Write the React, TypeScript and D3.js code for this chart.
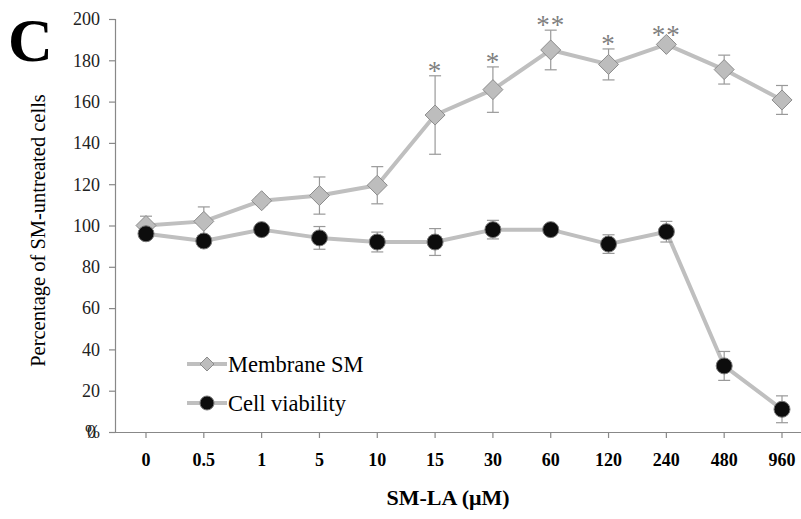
import React from "react";
import * as d3 from "d3";

const categories = ["0", "0.5", "1", "5", "10", "15", "30", "60", "120", "240", "480", "960"];
const membraneSM = [100, 102, 112, 114.5, 119.5, 153.5, 165.8, 185, 178, 187.7, 175.5, 160.8];
const membraneErr = [4.5, 7, 2, 9, 9, 19, 11, 9.6, 7.5, 2, 7, 7];
const viability = [96, 92.5, 98, 94, 92, 92, 98, 98, 91, 97, 32, 11];
const viabilityErr = [2.5, 2.5, 1.5, 5.5, 4.8, 6.5, 4.5, 1.5, 4.5, 5, 7, 6.5];
const stars = ["", "", "", "", "", "*", "*", "**", "*", "**", "", ""];
const yTicks = [20, 40, 60, 80, 100, 120, 140, 160, 180, 200];

const W = 801;
const H = 519;
const font = "'Liberation Serif', 'Times New Roman', serif";

const App = () => {
    const svgRef = React.useRef<SVGSVGElement>(null);

    React.useEffect(() => {
        drawChart()
    }, []);

    const drawChart = () => {
        if (!svgRef.current) return

        const svg = d3.select(svgRef.current)
        svg.selectAll("*").remove()

        const x = d3.scalePoint().domain(categories).range([146, 782])
        const y = d3.scaleLinear().domain([0, 200]).range([432, 19])

        const axisColor = "#888"
        const lineColor = "#bfbfbf"

        // panel letter
        svg.append("text")
            .attr("x", 8).attr("y", 61)
            .style("font", `bold 62px ${font}`)
            .text("C")

        // y axis
        svg.append("line")
            .attr("x1", 115.5).attr("x2", 115.5)
            .attr("y1", y(200)).attr("y2", y(0))
            .attr("stroke", axisColor).attr("stroke-width", 1.2)
        svg.append("g")
            .selectAll("line")
            .data([0, ...yTicks])
            .join("line")
            .attr("x1", 109).attr("x2", 115.5)
            .attr("y1", d => y(d) + 0.5).attr("y2", d => y(d) + 0.5)
            .attr("stroke", axisColor).attr("stroke-width", 1.2)
        svg.append("g")
            .selectAll("text")
            .data(yTicks)
            .join("text")
            .attr("x", 100).attr("y", d => y(d))
            .attr("dy", "0.35em")
            .attr("text-anchor", "end")
            .style("font", `18px ${font}`)
            .attr("fill", "#222")
            .text(d => d)
        // the "0" hidden under "%" at the origin, as in the source figure
        svg.append("text")
            .attr("x", 100).attr("y", y(0)).attr("dy", "0.35em")
            .attr("text-anchor", "end")
            .style("font", `18px ${font}`).attr("fill", "#222")
            .text("%")
        svg.append("text")
            .attr("x", 96).attr("y", y(0)).attr("dy", "0.35em")
            .attr("text-anchor", "end")
            .style("font", `18px ${font}`).attr("fill", "#222")
            .text("0")

        // y label
        svg.append("text")
            .attr("transform", `translate(45, ${y(100) + 5}) rotate(-90)`)
            .attr("text-anchor", "middle")
            .style("font", `20.5px ${font}`)
            .text("Percentage of SM-untreated cells")

        // x axis
        svg.append("line")
            .attr("x1", 115).attr("x2", W)
            .attr("y1", y(0) + 0.5).attr("y2", y(0) + 0.5)
            .attr("stroke", axisColor).attr("stroke-width", 1.2)
        svg.append("g")
            .selectAll("line")
            .data(categories)
            .join("line")
            .attr("x1", d => x(d)).attr("x2", d => x(d))
            .attr("y1", y(0)).attr("y2", y(0) + 6)
            .attr("stroke", axisColor).attr("stroke-width", 1.2)
        svg.append("g")
            .selectAll("text")
            .data(categories)
            .join("text")
            .attr("x", d => x(d)).attr("y", y(0) + 34)
            .attr("text-anchor", "middle")
            .style("font", `bold 18px ${font}`)
            .text(d => d)
        svg.append("text")
            .attr("x", 448).attr("y", 505)
            .attr("text-anchor", "middle")
            .style("font", `bold 22px ${font}`)
            .text("SM-LA (μM)")

        const drawSeries = (values, errs, marker) => {
            const g = svg.append("g")
            const line = d3.line<number>()
                .x((_d, i) => x(categories[i]))
                .y(d => y(d))
            g.append("path")
                .attr("d", line(values))
                .attr("fill", "none")
                .attr("stroke", lineColor)
                .attr("stroke-width", 4)
                .attr("stroke-linejoin", "round")

            const eb = g.append("g").attr("stroke", "#999").attr("stroke-width", 1.2)
            values.forEach((v, i) => {
                const cx = x(categories[i])
                const top = y(v + errs[i])
                const bot = y(v - errs[i])
                eb.append("line").attr("x1", cx).attr("x2", cx).attr("y1", top).attr("y2", bot)
                eb.append("line").attr("x1", cx - 6).attr("x2", cx + 6).attr("y1", top).attr("y2", top)
                eb.append("line").attr("x1", cx - 6).attr("x2", cx + 6).attr("y1", bot).attr("y2", bot)
            })

            values.forEach((v, i) => marker(g, x(categories[i]), y(v)))
        }

        const diamond = (g, cx, cy, s = 10) => {
            g.append("path")
                .attr("d", `M${cx},${cy - s}L${cx + s},${cy}L${cx},${cy + s}L${cx - s},${cy}Z`)
                .attr("fill", "#bdbdbd")
                .attr("stroke", "#8c8c8c")
                .attr("stroke-width", 1)
        }
        const circle = (g, cx, cy, r = 8) => {
            g.append("circle")
                .attr("cx", cx).attr("cy", cy).attr("r", r)
                .attr("fill", "#0d0d0d")
                .attr("stroke", "#777")
                .attr("stroke-width", 1)
        }

        drawSeries(membraneSM, membraneErr, diamond)
        drawSeries(viability, viabilityErr, circle)

        // significance stars
        svg.append("g")
            .selectAll("text")
            .data(stars.map((s, i) => ({ s, i })).filter(d => d.s))
            .join("text")
            .attr("x", d => x(categories[d.i]))
            .attr("y", d => y(membraneSM[d.i] + membraneErr[d.i]) + 4)
            .attr("text-anchor", "middle")
            .attr("fill", "#808080")
            .style("font", `27px ${font}`)
            .style("letter-spacing", "1px")
            .text(d => d.s)

        // legend
        const legend = [
            { label: "Membrane SM", yPos: 364 },
            { label: "Cell viability", yPos: 403 }
        ]
        legend.forEach((l, i) => {
            svg.append("line")
                .attr("x1", 187).attr("x2", 227)
                .attr("y1", l.yPos).attr("y2", l.yPos)
                .attr("stroke", lineColor).attr("stroke-width", 4)
            if (i === 0) diamond(svg, 207, l.yPos, 7)
            else circle(svg, 207, l.yPos, 7)
            svg.append("text")
                .attr("x", 228).attr("y", l.yPos).attr("dy", "0.35em")
                .style("font", `22.5px ${font}`)
                .text(l.label)
        })
    }

    return (
        <svg ref={svgRef} width={W} height={H} style={{ position: "absolute", left: 0, top: 0, background: "#fff" }} />
    )
}

export default App
